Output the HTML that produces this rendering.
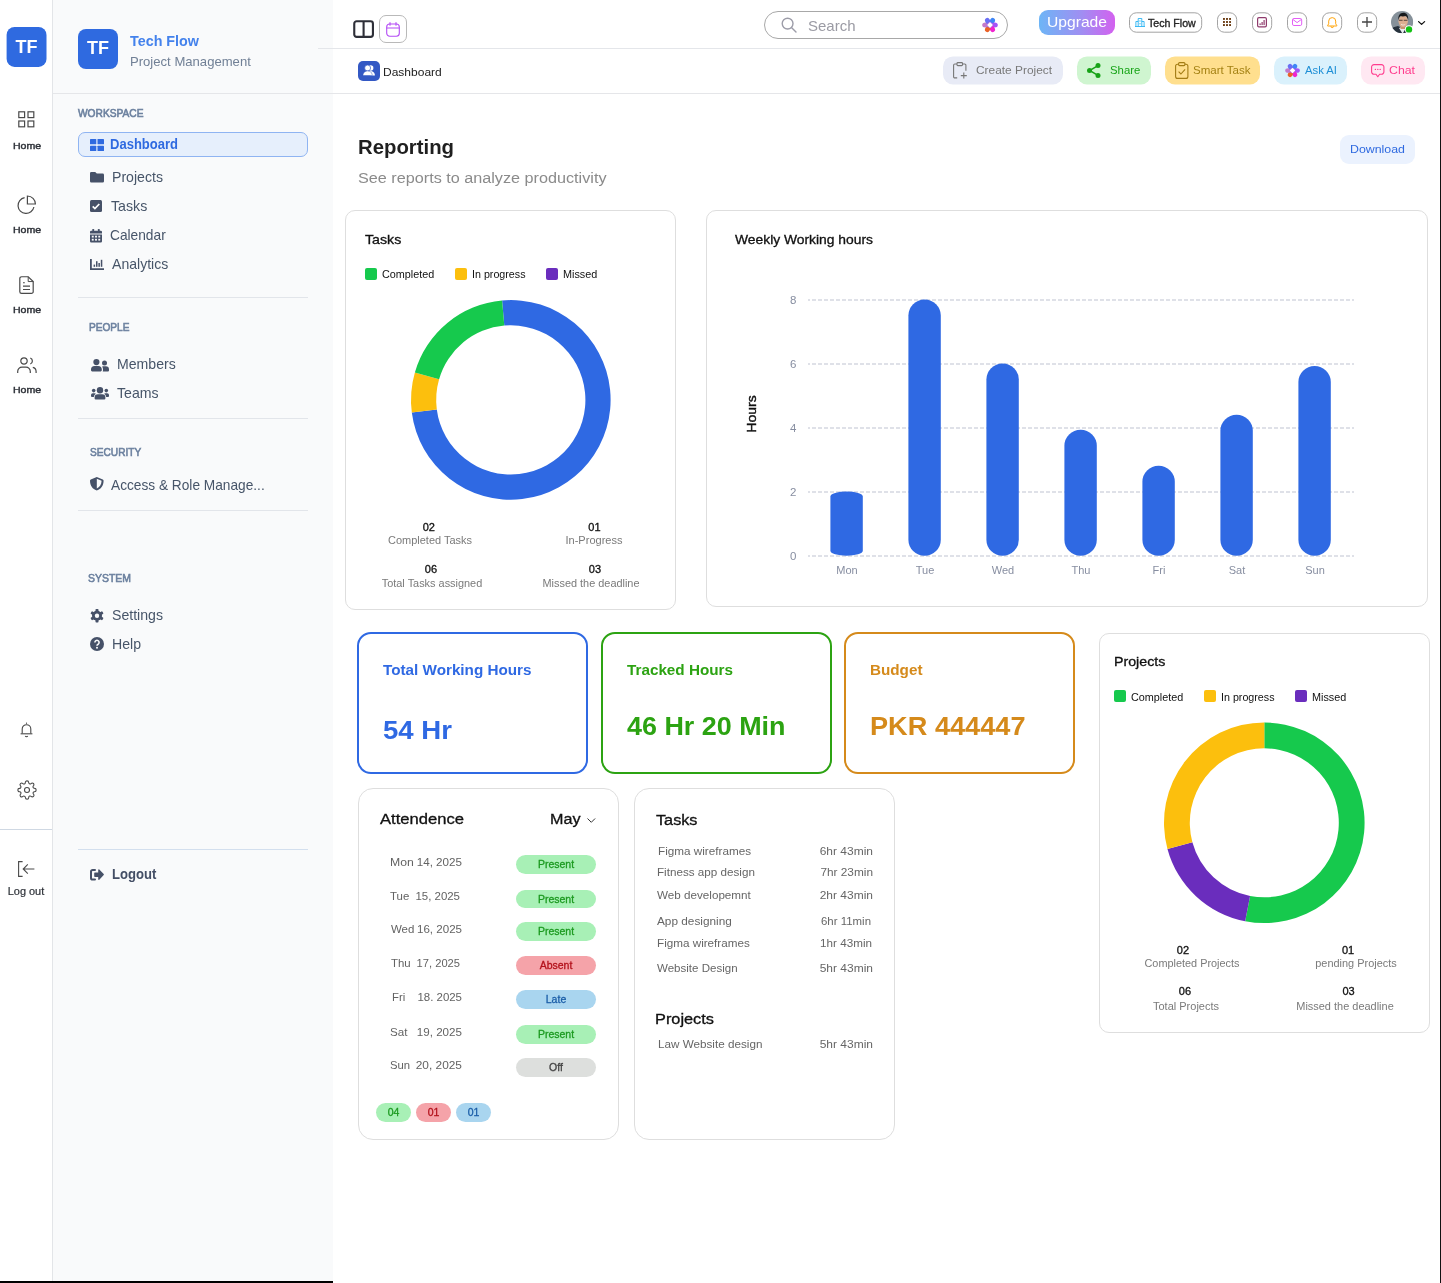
<!DOCTYPE html>
<html lang="en"><head>
<meta charset="utf-8">
<title>Tech Flow - Reporting</title>
<style>
*{box-sizing:border-box;margin:0;padding:0}
html,body{width:1441px;height:1283px;overflow:hidden;background:#fff}
body{font-family:"Liberation Sans",sans-serif;color:#111;position:relative;-webkit-font-smoothing:antialiased}
#wrap{position:absolute;left:0;top:0;width:1441px;height:1283px;overflow:hidden;will-change:transform;background:#fff}
.a{position:absolute}
.t{position:absolute;white-space:nowrap;line-height:1;transform:translateY(-50%) scaleX(var(--sx,1));transform-origin:left center}
.tc{position:absolute;white-space:nowrap;line-height:1;transform:translate(-50%,-50%) scaleX(var(--sx,1));transform-origin:center center}
.tr{position:absolute;white-space:nowrap;line-height:1;transform:translate(-100%,-50%) scaleX(var(--sx,1));transform-origin:right center}
svg{position:absolute;overflow:visible}
/* rail */
#rail{left:0;top:0;width:53px;height:1283px;background:#fff;border-right:1px solid #e3e5e8}
.rl{font-size:9.900px;color:#2b2f36;left:26.500px;-webkit-text-stroke:.42px currentColor}
/* sidebar */
#side{left:53px;top:0;width:280px;height:1283px;background:#f9fafb}
.sh{font-size:10px;color:#6c819f;-webkit-text-stroke:.6px currentColor}
.si{font-size:14.5px;color:#475569}
.hr{position:absolute;height:1px;background:#e2e5ea;left:78px;width:230px}
/* cards */
.card{position:absolute;background:#fff;border:1px solid #dedede;border-radius:12px}
.btn{position:absolute;border-radius:8px}
.ib{position:absolute;width:20.300px;height:20.400px;top:12.200px;border:1px solid #9a9a9a;border-radius:6.500px;background:#fff}
.md{-webkit-text-stroke:.32px currentColor}
.lg{font-size:11px;color:#111}
.sq{position:absolute;width:12px;height:12px;border-radius:2px}
.num{font-size:11px;color:#111;-webkit-text-stroke:.32px currentColor}
.lab{font-size:11px;color:#7a7a7a}
.dt{font-size:11.2px;color:#636363}
.pill{position:absolute;width:80px;height:18.400px;border-radius:10px;font-size:10.500px;text-align:center;line-height:18.400px;-webkit-text-stroke:.3px currentColor}
.tk{font-size:11.3px;color:#666}
</style>
</head>
<body>
<div id="wrap">
<!-- ICON RAIL -->
<div id="rail" class="a"></div>
<!-- SIDEBAR -->
<div id="side" class="a"></div>
<!-- lines -->
<div class="a" style="left:53px;top:93px;width:1387px;height:1px;background:#e5e6e9"></div>
<div class="a" style="left:318px;top:48px;width:1122px;height:1px;background:#e4e6ea"></div>
<!-- rail content -->
<svg style="left:0;top:0" width="53" height="70" viewBox="0 0 53 70"><rect x="6.600" y="26.900" width="39.900" height="40" rx="8" fill="#2f6ae0"></rect></svg>
<div class="tc" style="left:26.500px;top:46.500px;font-size:18px;font-weight:bold;color:#fff">TF</div>
<!-- grid icon -->
<svg style="left:18px;top:111px" width="17" height="17" viewBox="0 0 17 17" fill="none" stroke="#4a4a4a" stroke-width="1.2"><rect x=".8" y=".8" width="5.8" height="5.8"></rect><rect x="10" y=".8" width="5.8" height="5.8"></rect><rect x=".8" y="10" width="5.8" height="5.8"></rect><rect x="10" y="10" width="5.8" height="5.8"></rect></svg>
<div class="tc rl" style="top: 146px; --sx: 1.0705;">Home</div>
<!-- pie icon -->
<svg style="left:16.800px;top:195.400px" width="19" height="19" viewBox="0 0 19 19" fill="none" stroke="#4a4a4a" stroke-width="1.2"><path d="M7.6 2.6A8 8 0 1 0 16.9 12"></path><path d="M10.4 1v8h8A8 8 0 0 0 10.4 1z"></path></svg>
<div class="tc rl" style="top: 230px; --sx: 1.0705;">Home</div>
<!-- doc icon -->
<svg style="left:19px;top:276px" width="15" height="18.200" viewBox="0 0 15 19" preserveAspectRatio="none" fill="none" stroke="#4a4a4a" stroke-width="1.200"><path d="M2.600.800h6.600l5 5v10.600a1.800 1.800 0 0 1-1.800 1.800H2.600A1.800 1.800 0 0 1 .800 16.400V2.600A1.800 1.800 0 0 1 2.600.800z"></path><path d="M4 7h1.800M4 10.600h7M4 14.100h7"></path><path d="M9.200.800v5h5" stroke-width="1"></path></svg>
<div class="tc rl" style="top: 310px; --sx: 1.0705;">Home</div>
<!-- users icon -->
<svg style="left:17px;top:357px" width="20" height="17" viewBox="0 0 20 17" fill="none" stroke="#4a4a4a" stroke-width="1.2"><circle cx="7" cy="4" r="3.200"></circle><path d="M.7 16v-1.600A4.300 4.300 0 0 1 5 10.100h4a4.300 4.300 0 0 1 4.300 4.300V16"></path><path d="M13.300 1a3.200 3.200 0 0 1 0 6"></path><path d="M15.800 10.300a4.300 4.300 0 0 1 3.300 4.100V16"></path></svg>
<div class="tc rl" style="top: 390px; --sx: 1.0705;">Home</div>
<!-- bell -->
<svg style="left:20px;top:722px" width="13" height="16" viewBox="0 0 13 16" fill="none" stroke="#4a4a4a" stroke-width="1.100"><path d="M6.500 1.800V.6"></path><path d="M2.200 11.600V7a4.300 4.300 0 0 1 8.600 0v4.600"></path><path d="M.6 11.800h11.800"></path><path d="M5.300 14a1.300 1.300 0 0 0 2.400 0"></path></svg>
<!-- gear -->
<svg style="left:17px;top:780px" width="20" height="20" viewBox="0 0 24 24" fill="none" stroke="#4a4a4a" stroke-width="1.300" stroke-linejoin="round"><circle cx="12" cy="12" r="3"></circle><path d="M19.400 15a1.650 1.650 0 0 0 .33 1.820l.06.06a2 2 0 1 1-2.830 2.830l-.06-.06a1.650 1.650 0 0 0-1.820-.33 1.650 1.650 0 0 0-1 1.510V21a2 2 0 0 1-4 0v-.09A1.650 1.650 0 0 0 9 19.400a1.650 1.650 0 0 0-1.820.33l-.06.06a2 2 0 1 1-2.830-2.830l.06-.06a1.650 1.650 0 0 0 .33-1.820 1.650 1.650 0 0 0-1.510-1H3a2 2 0 0 1 0-4h.09A1.650 1.650 0 0 0 4.600 9a1.650 1.650 0 0 0-.33-1.820l-.06-.06a2 2 0 1 1 2.830-2.830l.06.06a1.650 1.650 0 0 0 1.820.33H9a1.650 1.650 0 0 0 1-1.510V3a2 2 0 0 1 4 0v.09a1.650 1.650 0 0 0 1 1.510 1.650 1.650 0 0 0 1.820-.33l.06-.06a2 2 0 1 1 2.830 2.830l-.06.06a1.650 1.650 0 0 0-.33 1.820V9a1.650 1.650 0 0 0 1.510 1H21a2 2 0 0 1 0 4h-.09a1.650 1.650 0 0 0-1.510 1z"></path></svg>
<div class="a" style="left:0;top:829px;width:52px;height:1px;background:#cfd8e3"></div>
<!-- logout -->
<svg style="left:18px;top:861px" width="17" height="16" viewBox="0 0 17 16" fill="none" stroke="#4a4a4a" stroke-width="1.100"><path d="M4.600.6H.6v14.800h4"></path><path d="M16.400 8H5.400M9.800 3.400L5.200 8l4.600 4.600"></path></svg>
<div class="tc" style="left: 26.2px; top: 890.6px; font-size: 11px; color: rgb(43, 47, 54); -webkit-text-stroke: 0.2px currentcolor; --sx: 0.9945;">Log out</div>

<!-- sidebar content -->
<div class="a" style="left:78px;top:29px;width:40px;height:40px;border-radius:8px;background:#2f6ae0"></div>
<div class="tc" style="left:98px;top:48.2px;font-size:18px;font-weight:bold;color:#fff">TF</div>
<div class="t" style="left: 130px; top: 40.2px; font-size: 15px; font-weight: bold; color: rgb(68, 130, 236); --sx: 0.9552;">Tech Flow</div>
<div class="t" style="left: 130px; top: 61.2px; font-size: 13px; color: rgb(113, 128, 150); --sx: 1.0071;">Project Management</div>
<div class="t sh" style="left: 78px; top: 112.7px; font-size: 10.5px; --sx: 0.9706;">WORKSPACE</div>
<div class="a" style="left:78px;top:132px;width:230px;height:25px;border-radius:7px;background:#e6effc;border:1px solid #8fb4f2"></div>
<svg style="left:90px;top:138.500px" width="14" height="12" viewBox="0 0 14 12" fill="#2f6ae0"><rect x="0" y="0" width="6.300" height="5.300" rx=".6"></rect><rect x="7.500" y="0" width="6.500" height="5.300" rx=".6"></rect><rect x="0" y="6.700" width="6.300" height="5.300" rx=".6"></rect><rect x="7.500" y="6.700" width="6.500" height="5.300" rx=".6"></rect></svg>
<div class="t" style="left: 109.5px; top: 143.7px; font-size: 14px; font-weight: bold; color: rgb(47, 106, 224); --sx: 0.9299;">Dashboard</div>
<!-- Projects -->
<svg style="left:90px;top:172.300px" width="14" height="10.500" viewBox="0 0 14 10.500" fill="#465168"><path d="M1.300 0h3.900l1.600 1.600h5.900A1.300 1.300 0 0 1 14 2.900v6.300a1.300 1.300 0 0 1-1.300 1.300H1.300A1.300 1.300 0 0 1 0 9.200V1.300A1.300 1.300 0 0 1 1.300 0z"></path></svg>
<div class="t si" style="left: 112px; top: 176.7px; --sx: 0.9735;">Projects</div>
<!-- Tasks -->
<svg style="left:90px;top:200.400px" width="12" height="12" viewBox="0 0 12 12"><rect width="12" height="12" rx="1.500" fill="#465168"></rect><path d="M2.700 6.300l2.200 2.200 4.400-4.500" fill="none" stroke="#fff" stroke-width="1.700"></path></svg>
<div class="t si" style="left: 110.5px; top: 205.7px; --sx: 0.9790;">Tasks</div>
<!-- Calendar -->
<svg style="left:90px;top:228.700px" width="12" height="13.500" viewBox="0 0 12 13.500" fill="#465168"><rect x="2.300" y="0" width="1.800" height="3" rx=".4"></rect><rect x="7.900" y="0" width="1.800" height="3" rx=".4"></rect><path d="M1.200 1.700h9.600A1.200 1.200 0 0 1 12 2.900v1.600H0V2.900a1.200 1.200 0 0 1 1.200-1.200z"></path><path d="M0 5.400h12v6.900a1.200 1.200 0 0 1-1.200 1.200H1.200A1.200 1.200 0 0 1 0 12.300z"></path><g fill="#f9fafb"><rect x="1.800" y="6.700" width="1.900" height="1.800"></rect><rect x="5.050" y="6.700" width="1.900" height="1.800"></rect><rect x="8.300" y="6.700" width="1.900" height="1.800"></rect><rect x="1.800" y="9.800" width="1.900" height="1.800"></rect><rect x="5.050" y="9.800" width="1.900" height="1.800"></rect><rect x="8.300" y="9.800" width="1.900" height="1.800"></rect></g></svg>
<div class="t si" style="left: 110.3px; top: 234.7px; --sx: 0.9466;">Calendar</div>
<!-- Analytics -->
<svg style="left:90px;top:258.800px" width="14" height="11" viewBox="0 0 14 11" fill="#465168"><path d="M0 0h1.800v9.200H14V11H0z"></path><rect x="3.600" y="5.600" width="1.500" height="2.200"></rect><rect x="6" y="2.200" width="1.500" height="5.600"></rect><rect x="8.400" y="4" width="1.500" height="3.800"></rect><rect x="10.800" y=".8" width="1.500" height="7"></rect></svg>
<div class="t si" style="left: 112px; top: 263.7px; --sx: 0.9702;">Analytics</div>
<div class="hr" style="top:297px"></div>
<div class="t sh" style="left: 89px; top: 326.7px; font-size: 11px; --sx: 0.9198;">PEOPLE</div>
<!-- Members -->
<svg style="left:91px;top:358.500px" width="18" height="12.500" viewBox="0 0 18 12.500" fill="#465168"><circle cx="5.400" cy="3.100" r="3.100"></circle><path d="M3.600 7h3.600A3.600 3.600 0 0 1 10.800 10.600v.7a1.100 1.100 0 0 1-1.100 1.100H1.100A1.100 1.100 0 0 1 0 11.300v-.7A3.600 3.600 0 0 1 3.600 7z"></path><circle cx="13.500" cy="3.900" r="2.500"></circle><path d="M11.100 7.500a4.600 4.600 0 0 1 1.200-.3h2.400A3.300 3.300 0 0 1 18 10.500v.9a1 1 0 0 1-1 1h-5.300a2.300 2.300 0 0 0 .3-1.100v-.7a4.600 4.600 0 0 0-.9-3.100z"></path></svg>
<div class="t si" style="left: 116.5px; top: 363.7px; --sx: 0.9713;">Members</div>
<!-- Teams -->
<svg style="left:91px;top:387.300px" width="18" height="12.600" viewBox="0 0 18 12.600" fill="#465168"><circle cx="9" cy="3.200" r="3.200"></circle><path d="M6.900 7.200h4.200A3.300 3.300 0 0 1 14.400 10.500v1a1.100 1.100 0 0 1-1.100 1.100H4.700A1.100 1.100 0 0 1 3.600 11.500v-1A3.300 3.300 0 0 1 6.900 7.200z"></path><circle cx="2.700" cy="3.600" r="1.800"></circle><circle cx="15.300" cy="3.600" r="1.800"></circle><path d="M1.800 6.300h1.800a1.800 1.800 0 0 1 1.300.5 4.100 4.100 0 0 0-2.100 3.100H.9A.9.900 0 0 1 0 9V8.100a1.800 1.800 0 0 1 1.800-1.800z"></path><path d="M16.200 6.300h-1.800a1.800 1.800 0 0 0-1.300.5 4.100 4.100 0 0 1 2.100 3.100h1.900A.9.900 0 0 0 18 9V8.100a1.800 1.800 0 0 0-1.800-1.800z"></path></svg>
<div class="t si" style="left: 116.5px; top: 392.7px; --sx: 0.9738;">Teams</div>
<div class="hr" style="top:418px"></div>
<div class="t sh" style="left: 90px; top: 451.7px; font-size: 11px; --sx: 0.9204;">SECURITY</div>
<!-- Access -->
<svg style="left:89.700px;top:477.400px" width="13.600" height="13.400" viewBox="0 0 13.600 13.400"><path d="M6.800 0l6 2.500c.5.200.8.700.8 1.200 0 5.200-3 8.500-6.300 9.600a1.300 1.300 0 0 1-1 0C3 12.200 0 8.900 0 3.700c0-.5.300-1 .8-1.200z" fill="#465168"></path><path d="M6.800 1.800v9.800c2.600-1.300 4.700-3.800 4.800-7.800z" fill="#f9fafb"></path></svg>
<div class="t si" style="left: 111px; top: 484.7px; --sx: 0.9440;">Access &amp; Role Manage...</div>
<div class="hr" style="top:510px"></div>
<div class="t sh" style="left: 88px; top: 577.7px; font-size: 11px; --sx: 0.9506;">SYSTEM</div>
<!-- Settings -->
<svg style="left:90px;top:608.800px" width="14" height="13.600" viewBox="-7 -6.800 14 13.600"><g fill="#465168"><circle r="5"></circle><g id="gt"><rect x="-1.500" y="-6.800" width="3" height="13.600" rx=".8"></rect></g><use href="#gt" transform="rotate(60)"></use><use href="#gt" transform="rotate(120)"></use></g><circle r="2.200" fill="#f9fafb"></circle></svg>
<div class="t si" style="left: 112px; top: 614.7px; --sx: 0.9732;">Settings</div>
<!-- Help -->
<svg style="left:90px;top:637.400px" width="14" height="14" viewBox="0 0 14 14"><circle cx="7" cy="7" r="7" fill="#465168"></circle><path d="M4.900 5.400a2.100 2.100 0 1 1 3.200 1.800c-.7.400-1.100.8-1.100 1.500" fill="none" stroke="#f9fafb" stroke-width="1.600"></path><circle cx="7" cy="10.700" r="1" fill="#f9fafb"></circle></svg>
<div class="t si" style="left: 112px; top: 643.7px; --sx: 0.9722;">Help</div>
<div class="hr" style="top:849px;background:#d3dfee"></div>
<!-- Logout -->
<svg style="left:90px;top:868.800px" width="14" height="11.500" viewBox="0 0 14 11.500"><path d="M5 1H2.600A1.600 1.600 0 0 0 1 2.600v6.300a1.600 1.600 0 0 0 1.600 1.600H5" fill="none" stroke="#465168" stroke-width="2" stroke-linecap="round"></path><path d="M4.900 3.500h3.300V.900c0-.6.700-.9 1.100-.5l4.400 4.600c.3.300.3.800 0 1.100l-4.400 4.600c-.4.400-1.100.1-1.100-.5V8H4.900a.7.700 0 0 1-.7-.7V4.200a.7.700 0 0 1 .7-.7z" fill="#465168"></path></svg>
<div class="t" style="left: 112px; top: 873.7px; font-size: 14px; font-weight: bold; color: rgb(67, 78, 101); --sx: 0.9342;">Logout</div>

<!-- topbar -->
<svg style="left:353px;top:19.500px" width="21.200" height="18.300" viewBox="0 0 22 19" fill="none" stroke="#2e2f38" stroke-width="2.200"><rect x="1.300" y="1.300" width="19.400" height="16.200" rx="2.500"></rect><path d="M11 1.300v16.200"></path></svg>
<div class="a" style="left:379px;top:15px;width:28px;height:28px;border:1px solid #b9b9b9;border-radius:7px;background:#fff"></div>
<svg style="left:386px;top:22px" width="14" height="15" viewBox="0 0 14 15" fill="none" stroke="#b44cf5" stroke-width="1.100" stroke-linecap="round"><rect x=".7" y="2" width="12.600" height="12.200" rx="3"></rect><path d="M.9 6h12.200M4 .6v2.600M10 .6v2.600"></path></svg>
<!-- search -->
<div class="a" style="left:764px;top:11px;width:244px;height:28px;border:1px solid #a8a8a8;border-radius:14px;background:#fff"></div>
<svg style="left:781px;top:17px" width="16" height="16" viewBox="0 0 16 16" fill="none" stroke="#9c9ca8" stroke-width="1.400" stroke-linecap="round"><circle cx="6.600" cy="6.600" r="5.400"></circle><path d="M10.700 10.700l4.300 4.300"></path></svg>
<div class="t" style="left: 808px; top: 25.3px; font-size: 15px; color: rgb(155, 155, 164); --sx: 0.9993;">Search</div>
<svg style="left:982.300px;top:16.700px" width="16" height="16" viewBox="-8 -8 16 16"><g id="fl"><ellipse cx="0" cy="-4.600" rx="2.500" ry="3.200" fill="#3f86f6" transform="rotate(30)"></ellipse><ellipse cx="0" cy="-4.600" rx="2.500" ry="3.200" fill="#a455f6" transform="rotate(90)"></ellipse><ellipse cx="0" cy="-4.600" rx="2.500" ry="3.200" fill="#f024cf" transform="rotate(150)"></ellipse><ellipse cx="0" cy="-4.600" rx="2.500" ry="3.200" fill="#ea6228" transform="rotate(210)"></ellipse><ellipse cx="0" cy="-4.600" rx="2.500" ry="3.200" fill="#c27acb" transform="rotate(270)"></ellipse><ellipse cx="0" cy="-4.600" rx="2.500" ry="3.200" fill="#6a6ff5" transform="rotate(330)"></ellipse><circle r="2.800" fill="#b060e8"></circle><path d="M0-2.900l2.900 2.900-2.900 2.900-2.900-2.900z" fill="#fff"></path></g></svg>
<!-- upgrade -->
<div class="a" style="left:1039px;top:10px;width:76px;height:25px;border-radius:9px;background:linear-gradient(90deg,#6db5f6 0%,#9f8ff2 55%,#d361ef 100%)"></div>
<div class="t" style="left: 1046.8px; top: 21.8px; font-size: 14.8px; color: rgb(255, 255, 255); --sx: 1.0570;">Upgrade</div>
<!-- tech flow -->
<svg style="left:1129px;top:12px" width="74" height="21" viewBox="0 0 74 21"><rect x=".5" y=".8" width="72.200" height="19.400" rx="6.800" fill="#fff" stroke="#a3a3a3" stroke-width="1"></rect></svg>
<svg style="left:1134.500px;top:18px" width="10" height="9" viewBox="0 0 10 9" fill="none" stroke="#2bb3f3" stroke-width=".9"><path d="M0 8.500h10"></path><path d="M3.200 8.500V.5h3.600v8"></path><path d="M3.200 3.500H.9v5M6.800 3.500h2.300v5"></path><path d="M5 2.300v1.400M5 5v1.400"></path></svg>
<div class="t" style="left: 1148.3px; top: 22.8px; font-size: 11px; color: rgb(37, 37, 37); -webkit-text-stroke: 0.35px currentcolor; --sx: 0.9650;">Tech Flow</div>
<!-- icon buttons -->
<svg style="left:1217px;top:12px" width="21" height="21" viewBox="0 0 21 21"><rect x=".5" y=".8" width="19.200" height="19.400" rx="6.800" fill="#fff" stroke="#a3a3a3" stroke-width="1"></rect></svg>
<svg style="left:1223px;top:18.100px" width="8" height="8" viewBox="0 0 8 8" fill="#6a3b12"><rect x="0" y="0" width="1.900" height="1.900"></rect><rect x="3.050" y="0" width="1.900" height="1.900"></rect><rect x="6.100" y="0" width="1.900" height="1.900"></rect><rect x="0" y="3.050" width="1.900" height="1.900"></rect><rect x="3.050" y="3.050" width="1.900" height="1.900"></rect><rect x="6.100" y="3.050" width="1.900" height="1.900"></rect><rect x="0" y="6.100" width="1.900" height="1.900"></rect><rect x="3.050" y="6.100" width="1.900" height="1.900"></rect><rect x="6.100" y="6.100" width="1.900" height="1.900"></rect></svg>
<svg style="left:1252px;top:12px" width="21" height="21" viewBox="0 0 21 21"><rect x=".5" y=".8" width="19.200" height="19.400" rx="6.800" fill="#fff" stroke="#a3a3a3" stroke-width="1"></rect></svg>
<svg style="left:1257px;top:17px" width="10" height="10.400" viewBox="0 0 10 10.400"><rect x=".6" y=".6" width="8.800" height="9.200" rx="1.300" fill="none" stroke="#8f3b6c" stroke-width="1.200"></rect><g fill="#8f3b6c"><rect x="2.500" y="6.400" width="1.200" height="1.700"></rect><rect x="4.500" y="5" width="1.200" height="3.100"></rect><rect x="6.500" y="3" width="1.200" height="5.100"></rect></g></svg>
<svg style="left:1287px;top:12px" width="21" height="21" viewBox="0 0 21 21"><rect x=".5" y=".8" width="19.200" height="19.400" rx="6.800" fill="#fff" stroke="#a3a3a3" stroke-width="1"></rect></svg>
<svg style="left:1292px;top:18.300px" width="10.200" height="8" viewBox="0 0 10.200 8" fill="none" stroke="#e35df6" stroke-width="1"><rect x=".5" y=".5" width="9.200" height="7" rx="1.400"></rect><path d="M.8 1.400l4.300 3.200 4.300-3.200"></path></svg>
<svg style="left:1322px;top:12px" width="21" height="21" viewBox="0 0 21 21"><rect x=".5" y=".8" width="19.200" height="19.400" rx="6.800" fill="#fff" stroke="#a3a3a3" stroke-width="1"></rect></svg>
<svg style="left:1327px;top:16.600px" width="10.400" height="11.500" viewBox="0 0 10.400 11.500" fill="none" stroke="#ffa40a" stroke-width="1"><path d="M5.200.6a3.500 3.500 0 0 0-3.500 3.500v2.700L.6 8.500v.5h9.200v-.5L8.700 6.800V4.100A3.500 3.500 0 0 0 5.200.6z" stroke-linejoin="round"></path><path d="M3.900 9.300a1.300 1.300 0 0 0 2.600 0"></path></svg>
<svg style="left:1357px;top:12px" width="21" height="21" viewBox="0 0 21 21"><rect x=".5" y=".8" width="19.200" height="19.400" rx="6.800" fill="#fff" stroke="#a3a3a3" stroke-width="1"></rect></svg>
<svg style="left:1362px;top:17.300px" width="10" height="10" viewBox="0 0 10 10" fill="none" stroke="#444" stroke-width="1.300"><path d="M5 0v10M0 5h10"></path></svg>
<!-- avatar -->
<svg style="left:1391px;top:11.400px" width="22.200" height="22.200" viewBox="0 0 22.200 22.200"><defs><clipPath id="av"><circle cx="11.100" cy="11.100" r="11.100"></circle></clipPath></defs><g clip-path="url(#av)"><rect width="22.200" height="22.200" fill="#86919a"></rect><path d="M0 22.200V18c2-1.800 4.500-2.600 7-3l4 2 4-2c2.500.4 5 1.200 7.200 3v4.200z" fill="#27323d"></path><path d="M8 17l3.300 5.200h.6L15 17l-3.500-1.500z" fill="#e8ecef"></path><rect x="9.500" y="13" width="5.200" height="5" fill="#c8946f"></rect><ellipse cx="12.200" cy="10.300" rx="4.700" ry="5.800" fill="#dcae90"></ellipse><path transform="translate(.8 0)" d="M6.600 9.200C6 4.500 8.300 1.800 11.500 1.800s5.400 2.600 4.900 7.300c-.5-2.200-1.500-3.600-2.400-4.100-1.700.5-4 .5-5.400.1-.9.700-1.600 2-2 4.100z" fill="#17191c"></path><path d="M8 9.300h3.600M12.800 9.300h3.600" stroke="#4b3a33" stroke-width=".9"></path><path d="M10 13.300c1.300 1 3 1 4.300 0" stroke="#f3e6e0" stroke-width=".9" fill="none"></path></g></svg>
<svg style="left:1400px;top:20px" width="16" height="16" viewBox="0 0 16 16"><circle cx="9" cy="9.400" r="4.100" fill="#fff"></circle><circle cx="9" cy="9.400" r="3.200" fill="#14c214"></circle></svg>
<svg style="left:1418px;top:20.800px" width="7.200" height="4" viewBox="0 0 7.200 4" fill="none" stroke="#111" stroke-width="1.300" stroke-linecap="round" stroke-linejoin="round"><path d="M.6.600l3 2.800 3-2.800"></path></svg>
<!-- second bar -->
<div class="a" style="left:358px;top:61px;width:22px;height:20px;border-radius:5px;background:#3358c4"></div>
<svg style="left:363px;top:65.200px" width="12" height="11" viewBox="0 0 12 11" fill="#fff"><circle cx="7.700" cy="3" r="2.700"></circle><path d="M6 6.300c2.400-.8 5.400.4 5.900 3.400v.8H7.500z"></path><circle cx="4.600" cy="3" r="3" stroke="#3358c4" stroke-width=".7"></circle><path d="M0 10.500v-.9c.5-2.600 2.400-3.700 4.600-3.700s4.100 1.100 4.600 3.700v.9z" stroke="#3358c4" stroke-width=".5"></path></svg>
<div class="t" style="left: 383px; top: 72.6px; font-size: 11.2px; color: rgb(34, 34, 34); --sx: 1.0743;">Dashboard</div>
<!-- Create project -->
<div class="btn" style="left:943px;top:56px;transform:translateY(.4px);width:120px;height:28px;background:#e8ebf6;border-radius:10px"></div>
<svg style="left:952.500px;top:62px" width="14" height="16.500" viewBox="0 0 14 16.500" fill="none" stroke="#777" stroke-width="1.100"><path d="M4 2H1.800A1.200 1.200 0 0 0 .6 3.200v11.500a1.200 1.200 0 0 0 1.200 1.200h2.400"></path><path d="M9.500 2h2.200a1.200 1.200 0 0 1 1.200 1.200v5.600"></path><rect x="4" y=".6" width="5.500" height="3" rx=".8"></rect><path d="M10.800 10.600v6M7.800 13.600h6"></path></svg>
<div class="t" style="left: 976.4px; top: 71.2px; font-size: 11.5px; color: rgb(121, 121, 121); --sx: 1.0338;">Create Project</div>
<!-- Share -->
<div class="btn" style="left:1077px;top:56px;transform:translateY(.4px);width:74px;height:28px;background:#cff5d0;border-radius:10px"></div>
<svg style="left:1087px;top:63px" width="13.500" height="15" viewBox="0 0 13.500 15"><path d="M11 2.600L2.600 7.500 11 12.400" fill="none" stroke="#17a317" stroke-width="1.500"></path><g fill="#17a317"><circle cx="11" cy="2.500" r="2.500"></circle><circle cx="2.500" cy="7.500" r="2.500"></circle><circle cx="11" cy="12.500" r="2.500"></circle></g></svg>
<div class="t" style="left: 1110.3px; top: 70.7px; font-size: 11.5px; color: rgb(24, 164, 24); --sx: 0.9874;">Share</div>
<!-- Smart Task -->
<div class="btn" style="left:1165px;top:56px;transform:translateY(.4px);width:95px;height:28px;background:#ffdf8e;border-radius:10px"></div>
<svg style="left:1174.800px;top:62px" width="13.500" height="17" viewBox="0 0 13.500 17" fill="none" stroke="#a37c14" stroke-width="1.100"><rect x=".6" y="2.200" width="12.300" height="14.200" rx="2"></rect><rect x="3.600" y=".6" width="6.300" height="3" rx="1" fill="#ffdf8e"></rect><path d="M3.600 9.700l2.300 2.300 4.200-4.600"></path></svg>
<div class="t" style="left: 1193px; top: 70.7px; font-size: 11.5px; color: rgb(165, 130, 20); --sx: 1.0033;">Smart Task</div>
<!-- Ask AI -->
<div class="btn" style="left:1274px;top:56px;transform:translateY(.4px);width:73px;height:28px;background:#daf1fc;border-radius:10px"></div>
<svg style="left:1284.700px;top:62.700px" width="15" height="15" viewBox="-8 -8 16 16"><use href="#fl"></use></svg>
<div class="t" style="left: 1305px; top: 70.7px; font-size: 11.5px; color: rgb(30, 143, 214); --sx: 0.9813;">Ask AI</div>
<!-- Chat -->
<div class="btn" style="left:1361px;top:56px;transform:translateY(.4px);width:64px;height:28px;background:#ffe8f2;border-radius:10px"></div>
<svg style="left:1371px;top:64px" width="13.500" height="13.500" viewBox="0 0 13.500 13.500" fill="none" stroke="#ff3d8e" stroke-width="1.100" stroke-linejoin="round"><path d="M3 .6h7.500a2.400 2.400 0 0 1 2.400 2.400v4.800a2.400 2.400 0 0 1-2.400 2.400H8.600l-1.800 2.500L5 10.200H3A2.400 2.400 0 0 1 .6 7.800V3A2.400 2.400 0 0 1 3 .6z"></path><path d="M4.300 5.400h.2M6.700 5.400h.2M9.100 5.400h.2" stroke-width="1.200" stroke-linecap="round"></path></svg>
<div class="t" style="left: 1389px; top: 70.7px; font-size: 11.5px; color: rgb(255, 61, 142); --sx: 1.0701;">Chat</div>

<!--MAIN-START--><!-- main -->
<div class="t" style="left: 358px; top: 147px; font-size: 20px; font-weight: bold; color: rgb(31, 31, 31); --sx: 1.0165;">Reporting</div>
<div class="t" style="left: 358px; top: 178px; font-size: 15.5px; color: rgb(139, 139, 139); --sx: 1.0450;">See reports to analyze productivity</div>
<div class="btn" style="left:1340px;top:135px;width:75px;height:28.500px;background:#ebf2fe;border-radius:9px"></div>
<div class="t" style="left: 1350px; top: 149.5px; font-size: 11.5px; color: rgb(47, 106, 224); --sx: 1.0751;">Download</div>
<div class="card" style="left:345px;top:210px;width:331px;height:399.500px;border-radius:10px"></div>
<div class="t md" style="left: 365px; top: 239.5px; font-size: 13.3px; color: rgb(17, 17, 17); --sx: 1.0676;">Tasks</div>
<div class="sq" style="left:364.9px;top:267.6px;background:#16c94d"></div>
<div class="t lg" style="left: 381.6px; top: 273.9px; --sx: 0.9830;">Completed</div>
<div class="sq" style="left:455px;top:267.6px;background:#fcbf0d"></div>
<div class="t lg" style="left: 472px; top: 273.9px; --sx: 0.9722;">In progress</div>
<div class="sq" style="left:546.2px;top:267.6px;background:#6a2dbd"></div>
<div class="t lg" style="left: 562.6px; top: 273.9px; --sx: 0.9844;">Missed</div>
<svg style="left:0;top:0" width="1441" height="1283" viewBox="0 0 1441 1283"><path d="M502.10 300.48A99.80 99.80 0 1 1 411.81 412.58L436.80 409.38A74.60 74.60 0 1 0 504.30 325.58Z" fill="#2f69e3"></path><path d="M411.81 412.58A99.80 99.80 0 0 1 414.87 372.39L439.09 379.34A74.60 74.60 0 0 0 436.80 409.38Z" fill="#fcbf0d"></path><path d="M414.87 372.39A99.80 99.80 0 0 1 502.10 300.48L504.30 325.58A74.60 74.60 0 0 0 439.09 379.34Z" fill="#16c94d"></path></svg>
<div class="tc num" style="left:428.8px;top:527.1px">02</div>
<div class="tc lab" style="left: 429.8px; top: 540px; --sx: 0.9980;">Completed Tasks</div>
<div class="tc num" style="left:594.4px;top:527.1px">01</div>
<div class="tc lab" style="left: 594.4px; top: 540px; --sx: 1.0025;">In-Progress</div>
<div class="tc num" style="left:430.9px;top:568.8px">06</div>
<div class="tc lab" style="left: 431.5px; top: 583.2px; --sx: 0.9920;">Total Tasks assigned</div>
<div class="tc num" style="left:594.9px;top:568.8px">03</div>
<div class="tc lab" style="left: 591px; top: 583.2px; --sx: 0.9914;">Missed the deadline</div>
<div class="card" style="left:706px;top:210px;width:722px;height:397px;border-radius:10px"></div>
<div class="t md" style="left: 734.5px; top: 239.5px; font-size: 13.3px; color: rgb(17, 17, 17); --sx: 1.0413;">Weekly Working hours</div>
<svg style="left:0;top:0" width="1441" height="1283" viewBox="0 0 1441 1283"><path d="M808 300 H1354" stroke="#dfe1e8" stroke-width="2" stroke-dasharray="4 2" stroke-dashoffset="2" fill="none"></path><path d="M808 364 H1354" stroke="#dfe1e8" stroke-width="2" stroke-dasharray="4 2" stroke-dashoffset="2" fill="none"></path><path d="M808 428 H1354" stroke="#dfe1e8" stroke-width="2" stroke-dasharray="4 2" stroke-dashoffset="2" fill="none"></path><path d="M808 492 H1354" stroke="#dfe1e8" stroke-width="2" stroke-dasharray="4 2" stroke-dashoffset="2" fill="none"></path><path d="M808 556 H1354" stroke="#dfe1e8" stroke-width="2" stroke-dasharray="4 2" stroke-dashoffset="2" fill="none"></path><rect x="830.4" y="491.5" width="32.400" height="64.20000000000005" rx="16.200" ry="5" fill="#2f69e3"></rect><rect x="908.4" y="299.5" width="32.400" height="256.20000000000005" rx="16.200" ry="16" fill="#2f69e3"></rect><rect x="986.4" y="363.5" width="32.400" height="192.20000000000005" rx="16.200" ry="16" fill="#2f69e3"></rect><rect x="1064.3999999999999" y="429.7" width="32.400" height="126.00000000000006" rx="16.200" ry="16" fill="#2f69e3"></rect><rect x="1142.3999999999999" y="465.8" width="32.400" height="89.90000000000003" rx="16.200" ry="16" fill="#2f69e3"></rect><rect x="1220.3999999999999" y="414.7" width="32.400" height="141.00000000000006" rx="16.200" ry="16" fill="#2f69e3"></rect><rect x="1298.3999999999999" y="366" width="32.400" height="189.70000000000005" rx="16.200" ry="16" fill="#2f69e3"></rect></svg>
<div class="tr" style="left:796.400px;top:301.1px;font-size:11.500px;color:#878ea1">8</div>
<div class="tr" style="left:796.400px;top:365.1px;font-size:11.500px;color:#878ea1">6</div>
<div class="tr" style="left:796.400px;top:429.1px;font-size:11.500px;color:#878ea1">4</div>
<div class="tr" style="left:796.400px;top:493.1px;font-size:11.500px;color:#878ea1">2</div>
<div class="tr" style="left:796.400px;top:557.1px;font-size:11.500px;color:#878ea1">0</div>
<div class="tc" style="left:847px;top:569.800px;font-size:11px;color:#878ea1">Mon</div>
<div class="tc" style="left:925px;top:569.800px;font-size:11px;color:#878ea1">Tue</div>
<div class="tc" style="left:1003px;top:569.800px;font-size:11px;color:#878ea1">Wed</div>
<div class="tc" style="left:1081px;top:569.800px;font-size:11px;color:#878ea1">Thu</div>
<div class="tc" style="left:1159px;top:569.800px;font-size:11px;color:#878ea1">Fri</div>
<div class="tc" style="left:1237px;top:569.800px;font-size:11px;color:#878ea1">Sat</div>
<div class="tc" style="left:1315px;top:569.800px;font-size:11px;color:#878ea1">Sun</div>
<div class="a" style="left:752.300px;top:414.100px;width:0;height:0"><div class="tc md" style="left: 0px; top: 0px; font-size: 13.6px; -webkit-text-stroke: 0.42px rgb(17, 17, 17); color: rgb(17, 17, 17); transform: translate(-50%,-50%) rotate(-90deg) scaleX(var(--sx,1)); --sx: 1.0285;">Hours</div></div>
<div class="a" style="left:357px;top:632px;width:230.700px;height:142px;border:2px solid #2f69e3;border-radius:14px;background:#fff"></div>
<div class="t" style="left: 382.7px; top: 669.2px; font-size: 15px; font-weight: bold; color: rgb(47, 105, 227); --sx: 1.0163;">Total Working Hours</div>
<div class="t" style="left: 382.7px; top: 730px; font-size: 26px; font-weight: bold; color: rgb(47, 105, 227); --sx: 1.0608;">54 Hr</div>
<div class="a" style="left:601px;top:632px;width:230.700px;height:142px;border:2px solid #2ca312;border-radius:14px;background:#fff"></div>
<div class="t" style="left: 626.7px; top: 669.2px; font-size: 15px; font-weight: bold; color: rgb(44, 163, 18); --sx: 1.0171;">Tracked Hours</div>
<div class="t" style="left: 626.7px; top: 726.3px; font-size: 26px; font-weight: bold; color: rgb(44, 163, 18); --sx: 1.0348;">46 Hr 20 Min</div>
<div class="a" style="left:844px;top:632px;width:230.700px;height:142px;border:2px solid #d58a1b;border-radius:14px;background:#fff"></div>
<div class="t" style="left: 869.7px; top: 669.2px; font-size: 15px; font-weight: bold; color: rgb(213, 138, 27); --sx: 1.0160;">Budget</div>
<div class="t" style="left: 869.7px; top: 726.3px; font-size: 26px; font-weight: bold; color: rgb(213, 138, 27); --sx: 1.0444;">PKR 444447</div>
<div class="card" style="left:358px;top:788px;width:261px;height:352px;border-radius:15px"></div>
<div class="t md" style="left: 380.3px; top: 818.8px; font-size: 15.3px; color: rgb(17, 17, 17); --sx: 1.0852;">Attendence</div>
<div class="t md" style="left: 550.3px; top: 818.8px; font-size: 15.3px; color: rgb(17, 17, 17); --sx: 1.0551;">May</div>
<svg style="left:586.500px;top:817.500px" width="8.600" height="5" viewBox="0 0 8.600 5" fill="none" stroke="#333" stroke-width="1"><path d="M.5.500l3.800 3.800 3.800-3.800"></path></svg>
<div class="t dt" style="left: 390.1px; top: 863.2px; --sx: 1.0935;">Mon</div>
<div class="tr dt" style="left: 461.6px; top: 863.2px; --sx: 1.0399;">14, 2025</div>
<div class="pill" style="left:516px;top:855.3px;background:#a8f0b6;color:#1c9a20"><span>Present</span></div>
<div class="t dt" style="left: 390.1px; top: 897.3px; --sx: 1.0225;">Tue</div>
<div class="tr dt" style="left: 459.9px; top: 897.3px; --sx: 1.0238;">15, 2025</div>
<div class="pill" style="left:516px;top:889.5px;background:#a8f0b6;color:#1c9a20"><span>Present</span></div>
<div class="t dt" style="left: 390.5px; top: 930.2px; --sx: 1.0258;">Wed</div>
<div class="tr dt" style="left: 461.6px; top: 930.2px; --sx: 1.0330;">16, 2025</div>
<div class="pill" style="left:516px;top:922.1999999999999px;background:#a8f0b6;color:#1c9a20"><span>Present</span></div>
<div class="t dt" style="left: 390.6px; top: 964.2px; --sx: 1.0217;">Thu</div>
<div class="tr dt" style="left: 459.7px; top: 964.2px; --sx: 0.9963;">17, 2025</div>
<div class="pill" style="left:516px;top:956.3px;background:#f5a3a9;color:#b3121c"><span>Absent</span></div>
<div class="t dt" style="left: 391.9px; top: 998.3px; --sx: 1.0117;">Fri</div>
<div class="tr dt" style="left: 462.2px; top: 998.3px; --sx: 1.0238;">18. 2025</div>
<div class="pill" style="left:516px;top:990.3px;background:#a9d5ef;color:#1b5ea8"><span>Late</span></div>
<div class="t dt" style="left: 390.1px; top: 1033.1px; --sx: 1.0419;">Sat</div>
<div class="tr dt" style="left: 461.8px; top: 1033.1px; --sx: 1.0376;">19, 2025</div>
<div class="pill" style="left:516px;top:1025.3px;background:#a8f0b6;color:#1c9a20"><span>Present</span></div>
<div class="t dt" style="left: 389.7px; top: 1066.2px; --sx: 1.0097;">Sun</div>
<div class="tr dt" style="left: 462.2px; top: 1066.2px; --sx: 1.0628;">20, 2025</div>
<div class="pill" style="left:516px;top:1058.2px;background:#dddfdd;color:#444"><span>Off</span></div>
<div class="pill" style="left:376px;top:1103.300px;width:35px;height:18.700px;line-height:18px;background:#a8f0b6;color:#1c9a20">04</div>
<div class="pill" style="left:416px;top:1103.300px;width:35px;height:18.700px;line-height:18px;background:#f5a3a9;color:#b3121c">01</div>
<div class="pill" style="left:456px;top:1103.300px;width:35px;height:18.700px;line-height:18px;background:#a9d5ef;color:#1b5ea8">01</div>
<div class="card" style="left:634px;top:788px;width:261px;height:352px;border-radius:15px"></div>
<div class="t md" style="left: 655.5px; top: 819.6px; font-size: 15.3px; color: rgb(17, 17, 17); --sx: 1.0611;">Tasks</div>
<div class="t tk" style="left: 657.9px; top: 852.2px; --sx: 1.0360;">Figma wireframes</div>
<div class="tr tk" style="left: 872.5px; top: 852.2px; --sx: 1.0607;">6hr 43min</div>
<div class="t tk" style="left: 657.1px; top: 872.9px; --sx: 1.0324;">Fitness app design</div>
<div class="tr tk" style="left: 872.5px; top: 872.9px; --sx: 1.0468;">7hr 23min</div>
<div class="t tk" style="left: 657.1px; top: 896.4px; --sx: 1.0324;">Web developemnt</div>
<div class="tr tk" style="left: 872.5px; top: 896.4px; --sx: 1.0607;">2hr 43min</div>
<div class="t tk" style="left: 657.3px; top: 922.3px; --sx: 1.0446;">App designing</div>
<div class="tr tk" style="left: 870.9px; top: 922.3px; --sx: 1.0120;">6hr 11min</div>
<div class="t tk" style="left: 657.1px; top: 944px; --sx: 1.0338;">Figma wireframes</div>
<div class="tr tk" style="left: 871.9px; top: 944px; --sx: 1.0328;">1hr 43min</div>
<div class="t tk" style="left: 657.1px; top: 968.7px; --sx: 1.0213;">Website Design</div>
<div class="tr tk" style="left: 872.5px; top: 968.7px; --sx: 1.0607;">5hr 43min</div>
<div class="t md" style="left: 655px; top: 1018.8px; font-size: 15.3px; color: rgb(17, 17, 17); --sx: 1.0676;">Projects</div>
<div class="t tk" style="left: 658.3px; top: 1045.4px; --sx: 1.0346;">Law Website design</div>
<div class="tr tk" style="left: 872.5px; top: 1045.4px; --sx: 1.0607;">5hr 43min</div>
<div class="card" style="left:1099px;top:633px;width:331px;height:399.500px;border-radius:10px"></div>
<div class="t md" style="left: 1113.6px; top: 662.3px; font-size: 13.3px; color: rgb(17, 17, 17); --sx: 1.0677;">Projects</div>
<div class="sq" style="left:1114px;top:690.3px;background:#16c94d"></div>
<div class="t lg" style="left: 1130.7px; top: 696.6px; --sx: 0.9830;">Completed</div>
<div class="sq" style="left:1204px;top:690.3px;background:#fcbf0d"></div>
<div class="t lg" style="left: 1220.6px; top: 696.6px; --sx: 0.9722;">In progress</div>
<div class="sq" style="left:1295.2px;top:690.3px;background:#6a2dbd"></div>
<div class="t lg" style="left: 1311.8px; top: 696.6px; --sx: 0.9844;">Missed</div>
<svg style="left:0;top:0" width="1441" height="1283" viewBox="0 0 1441 1283"><path d="M1264.30 722.50A100.30 100.30 0 1 1 1245.16 921.26L1250.08 895.93A74.50 74.50 0 1 0 1264.30 748.30Z" fill="#16c94d"></path><path d="M1245.16 921.26A100.30 100.30 0 0 1 1167.46 848.93L1192.37 842.21A74.50 74.50 0 0 0 1250.08 895.93Z" fill="#6a2dbd"></path><path d="M1167.46 848.93A100.30 100.30 0 0 1 1264.30 722.50L1264.30 748.30A74.50 74.50 0 0 0 1192.37 842.21Z" fill="#fcbf0d"></path></svg>
<div class="tc num" style="left:1182.9px;top:949.9px">02</div>
<div class="tc lab" style="left: 1191.6px; top: 962.6px; --sx: 0.9896;">Completed Projects</div>
<div class="tc num" style="left:1348.1px;top:949.9px">01</div>
<div class="tc lab" style="left: 1355.5px; top: 962.6px; --sx: 0.9945;">pending Projects</div>
<div class="tc num" style="left:1184.9px;top:991.4px">06</div>
<div class="tc lab" style="left: 1185.7px; top: 1006px; --sx: 0.9995;">Total Projects</div>
<div class="tc num" style="left:1348.5px;top:991.4px">03</div>
<div class="tc lab" style="left: 1344.9px; top: 1006px; --sx: 0.9965;">Missed the deadline</div>
<!--MAIN-END-->
<!-- frame artefacts -->
<div class="a" style="left:1440px;top:0;width:1px;height:1283px;background:#111"></div>
<div class="a" style="left:0;top:1281px;width:333px;height:2px;background:#000"></div>
</div>


</body></html>
